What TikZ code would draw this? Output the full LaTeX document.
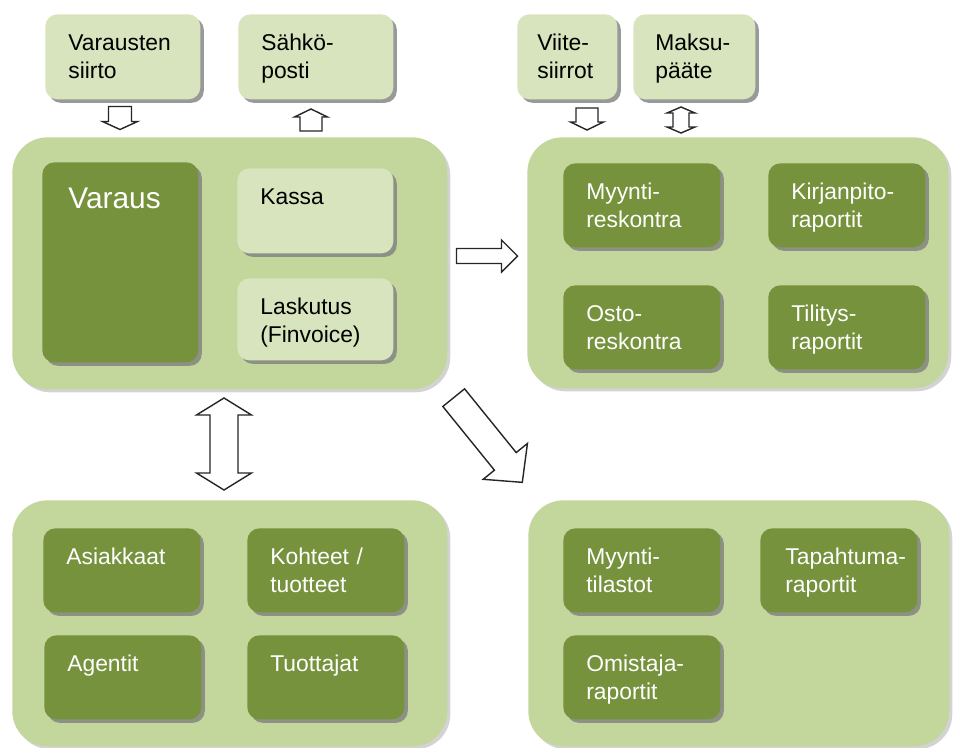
\documentclass[tikz,border=0pt]{standalone}
\usepackage{fontspec}
\setmainfont{Liberation Sans}
\usetikzlibrary{shadows,calc}
\definecolor{vlgreen}{RGB}{195,214,155}
\definecolor{vgreen}{RGB}{118,146,60}
\definecolor{vpale}{RGB}{215,228,189}
\definecolor{vgray}{RGB}{128,128,128}
\hyphenpenalty=10000
\exhyphenpenalty=10000
\begin{document}
\begin{tikzpicture}[x=0.02cm,y=-0.02cm,
  panel/.style={fill=vlgreen,rounded corners=0.7cm,anchor=north west,inner sep=0pt,
    drop shadow={shadow xshift=0.06cm,shadow yshift=-0.06cm,fill=vgray,opacity=0.35}},
  tile/.style={fill=vgreen,text=white,rounded corners=0.24cm,anchor=north west,align=left,
    font=\fontsize{13}{16}\selectfont,inner xsep=0.46cm,inner ysep=0.4cm,
    text width=2.22cm,text height=0.33cm,text depth=0.55cm,
    drop shadow={shadow xshift=0.07cm,shadow yshift=-0.07cm,fill=vgray,opacity=0.8}},
  pale/.style={tile,fill=vpale,text=black},
  blk/.style={draw=black!85,fill=white,line width=0.8pt,line join=miter},
  % length/head width/shaft width/head length
  pics/blkone/.style args={#1/#2/#3/#4}{code={
    \draw[blk] (-#1/2,-#3/2) -- (#1/2-#4,-#3/2) -- (#1/2-#4,-#2/2) -- (#1/2,0)
      -- (#1/2-#4,#2/2) -- (#1/2-#4,#3/2) -- (-#1/2,#3/2) -- cycle;}},
  pics/blktwo/.style args={#1/#2/#3/#4}{code={
    \draw[blk] (-#1/2,0) -- (-#1/2+#4,-#2/2) -- (-#1/2+#4,-#3/2) -- (#1/2-#4,-#3/2)
      -- (#1/2-#4,-#2/2) -- (#1/2,0) -- (#1/2-#4,#2/2) -- (#1/2-#4,#3/2)
      -- (-#1/2+#4,#3/2) -- (-#1/2+#4,#2/2) -- cycle;}}]
  \useasboundingbox (0,0) rectangle (953,747);
  % Panels
  \node[panel,minimum width=8.7cm,minimum height=5.04cm] (p1) at (12,137) {};
  \node[panel,minimum width=8.42cm,minimum height=5.02cm] (p2) at (527,137) {};
  \node[panel,minimum width=8.7cm,minimum height=4.92cm] (p3) at (12,500) {};
  \node[panel,minimum width=8.42cm,minimum height=4.92cm] (p4) at (528,500) {};
  % Interfaces
  \node[pale,text width=2.18cm,text depth=0.57cm] (vs) at (45,14) {Varausten\\siirto};
  \node[pale,text width=2.18cm,text depth=0.57cm] (sp) at (238,14) {Sähkö-\\posti};
  \node[pale,inner xsep=0.4cm,text width=1.2cm,text depth=0.57cm] (vii) at (517,14) {Viite-\\siirrot};
  \node[pale,inner xsep=0.44cm,text width=1.56cm,text depth=0.57cm] (mak) at (633,14) {Maksu-\\pääte};
  % Varaus
  \node[tile,font=\fontsize{17}{20}\selectfont,inner xsep=0.52cm,inner ysep=0.5cm,
    text width=2.08cm,text height=0.43cm,text depth=2.57cm] (var) at (42,162) {Varaus};
  \node[pale,text width=2.2cm,text depth=0.57cm] (kas) at (237,168) {Kassa};
  \node[pale,text width=2.2cm,text depth=0.51cm] (las) at (237,278) {Laskutus\\(Finvoice)};
  % Reskontrat
  \node[tile] (myr) at (563,163) {Myynti-\\reskontra};
  \node[tile] (kir) at (768,163) {Kirjanpito-\\raportit};
  \node[tile] (osr) at (563,285) {Osto-\\reskontra};
  \node[tile] (til) at (768,285) {Tilitys-\\raportit};
  % Perustiedot
  \node[tile] (asi) at (43,528) {Asiakkaat};
  \node[tile] (koh) at (247,528) {Kohteet /\\tuotteet};
  \node[tile] (age) at (44,635) {Agentit};
  \node[tile] (tuo) at (247,635) {Tuottajat};
  % Raportit
  \node[tile] (myt) at (563,528) {Myynti-\\tilastot};
  \node[tile,inner xsep=0.5cm,text width=2.14cm] (tap) at (760,528) {Tapahtuma-\\raportit};
  \node[tile] (omi) at (563,635) {Omistaja-\\raportit};
  % Block arrows
  \pic[rotate=-90] (a1) at (120,118) {blkone={23/35/23/8}};
  \pic[rotate=90] (a2) at (311,120) {blkone={22/33/22/8}};
  \pic[rotate=-90] (a3) at (587,119) {blkone={22/33/22/8}};
  \pic[rotate=90] (a4) at (681,120) {blktwo={26/28/16/6}};
  \pic (a5) at (487,256) {blkone={61/32/15/16}};
  \pic[rotate=90] (a6) at (224,444) {blktwo={92/55/28/17}};
  \pic[rotate=-51] (a7) at (488,440) {blkone={109/57/28/27}};
\end{tikzpicture}
\end{document}
